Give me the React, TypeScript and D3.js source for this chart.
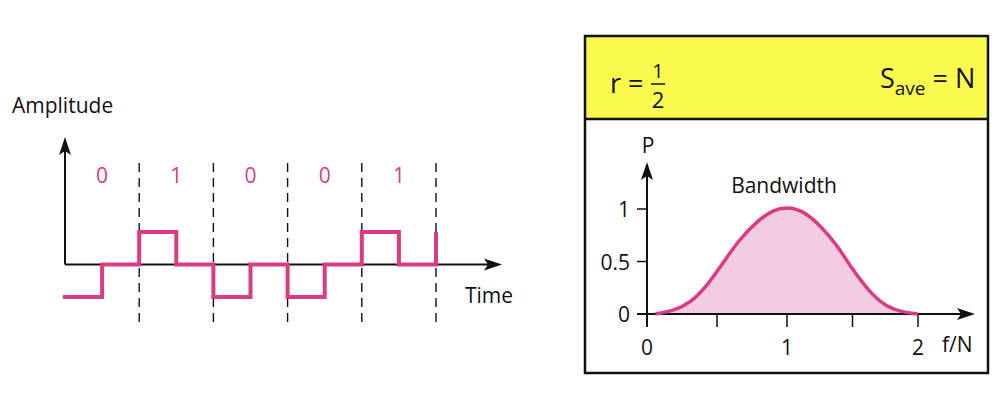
import React from 'react';
import * as d3 from 'd3';

// Left panel: bits and the signal levels (per half bit)
const bits: string[] = ['0', '1', '0', '0', '1'];
const signalTimes: number[] = [0, 0.5, 1, 1.5, 2, 2.5, 3, 3.5, 4, 4.5, 5];
const signalLevels: number[] = [-1, 0, 1, 0, -1, 0, -1, 0, 1, 0, 1];

// Right panel: power spectrum
const specF: number[] = [0.06, 0.19, 0.31, 0.43, 0.54, 0.66, 0.79, 0.9, 1.0, 1.12, 1.25, 1.38, 1.5, 1.63, 1.76, 1.89, 2.0];
const specP: number[] = [0, 0.04, 0.12, 0.28, 0.48, 0.7, 0.88, 0.98, 1.01, 0.97, 0.84, 0.65, 0.43, 0.22, 0.08, 0.02, 0];
const yTicks: number[] = [0, 0.5, 1];
const yTickLabels: string[] = ['0', '0.5', '1'];
const xTicks: number[] = [0, 0.5, 1, 1.5, 2];
const xTickLabels: string[] = ['0', '1', '2'];
const xLabelValues: number[] = [0, 1, 2];

const PINK = '#DC3A84';
const FILL = '#F4CCE2';
const YELLOW = '#FAFA4E';
const FONT = '"Open Sans", sans-serif';

const App: React.FC = () => {
  // left scales
  const tx = d3.scaleLinear().domain([0, 5]).range([65, 436]);
  const ly = d3.scaleLinear().domain([-1, 1]).range([297, 232]);
  const y0 = ly(0);

  const sig = signalTimes.map((t, i) => ({ t, v: signalLevels[i] }));
  const stepLine = d3
    .line<{ t: number; v: number }>()
    .x((d) => tx(d.t))
    .y((d) => ly(d.v))
    .curve(d3.curveStepAfter);

  // right scales
  const fx = d3.scaleLinear().domain([0, 1, 2]).range([647, 787, 918]);
  const py = d3.scaleLinear().domain([0, 1]).range([314, 209]);
  const spec = specF.map((f, i) => ({ f, p: specP[i] }));
  const area = d3
    .area<{ f: number; p: number }>()
    .x((d) => fx(d.f))
    .y0(py(0))
    .y1((d) => py(d.p))
    .curve(d3.curveNatural);
  const line = d3
    .line<{ f: number; p: number }>()
    .x((d) => fx(d.f))
    .y((d) => py(d.p))
    .curve(d3.curveNatural);

  const upArrow = (x: number, y: number) => `M${x},${y} L${x - 6},${y + 18} L${x},${y + 14} L${x + 6},${y + 18} Z`;
  const rightArrow = (x: number, y: number) => `M${x},${y} L${x - 18},${y - 6} L${x - 14},${y} L${x - 18},${y + 6} Z`;

  return (
    <svg width={1002} height={414} style={{ position: 'absolute', left: 0, top: 0, background: '#fff' }} fontFamily={FONT}>
      {/* ---------- left panel ---------- */}
      <text x={12} y={113} fontSize={21} fill="#111">Amplitude</text>
      <text x={465} y={303} fontSize={21} fill="#111">Time</text>

      {bits.map((b, i) => (
        <text key={i} x={tx(i + 0.5)} y={183} fontSize={21} fill={PINK} textAnchor="middle">{b}</text>
      ))}

      {d3.range(1, bits.length + 1).map((i) => (
        <line key={i} x1={tx(i)} x2={tx(i)} y1={163} y2={327} stroke="#111" strokeWidth={1.4} strokeDasharray="9,6" />
      ))}

      <line x1={tx(0)} x2={tx(0)} y1={y0} y2={150} stroke="#111" strokeWidth={2} />
      <path d={upArrow(tx(0), 137)} fill="#111" />
      <line x1={tx(0)} x2={490} y1={y0} y2={y0} stroke="#111" strokeWidth={2} />
      <path d={rightArrow(502, y0)} fill="#111" />

      <g transform="translate(-2,0)">
        <line x1={tx(0)} x2={tx(0) + 2} y1={ly(signalLevels[0])} y2={ly(signalLevels[0])} stroke={PINK} strokeWidth={4} />
      </g>
      <path d={stepLine(sig) || ''} fill="none" stroke={PINK} strokeWidth={4} strokeLinejoin="miter" />

      {/* ---------- right panel ---------- */}
      <rect x={585} y={36} width={403} height={83} fill={YELLOW} />
      <rect x={585} y={36} width={403} height={337} fill="none" stroke="#111" strokeWidth={2.5} />
      <line x1={585} x2={988} y1={119} y2={119} stroke="#111" strokeWidth={2.5} />

      <text x={610} y={93} fontSize={27} fill="#111">r =</text>
      <text x={658} y={78} fontSize={20} fill="#111" textAnchor="middle">1</text>
      <line x1={651} x2={665} y1={84} y2={84} stroke="#111" strokeWidth={1.5} />
      <text x={658} y={108} fontSize={22} fill="#111" textAnchor="middle">2</text>

      <text x={880} y={88} fontSize={27} fill="#111">
        S<tspan fontSize={19} dy={7}>ave</tspan>
        <tspan dy={-7}> = N</tspan>
      </text>

      <path d={area(spec) || ''} fill={FILL} />

      {/* axes */}
      <line x1={fx(0)} x2={fx(0)} y1={327} y2={175} stroke="#111" strokeWidth={2} />
      <path d={upArrow(fx(0), 162)} fill="#111" />
      <line x1={637} x2={963} y1={py(0)} y2={py(0)} stroke="#111" strokeWidth={2} />
      <path d={rightArrow(975, py(0))} fill="#111" />

      {yTicks.map((t) => (
        <line key={t} x1={637} x2={fx(0)} y1={py(t)} y2={py(t)} stroke="#111" strokeWidth={1.5} />
      ))}
      {yTicks.map((t, i) => (
        <text key={t} x={630} y={py(t) + 8} fontSize={21} fill="#111" textAnchor="end">{yTickLabels[i]}</text>
      ))}
      {xTicks.map((t) => (
        <line key={t} x1={fx(t)} x2={fx(t)} y1={py(0)} y2={327} stroke="#111" strokeWidth={1.5} />
      ))}
      {xLabelValues.map((t, i) => (
        <text key={t} x={fx(t)} y={355} fontSize={21} fill="#111" textAnchor="middle">{xTickLabels[i]}</text>
      ))}
      <text x={942} y={352} fontSize={21} fill="#111">f/N</text>
      <text x={648} y={153} fontSize={21} fill="#111" textAnchor="middle">P</text>
      <text x={784} y={193} fontSize={21} fill="#111" textAnchor="middle">Bandwidth</text>

      <path d={line(spec) || ''} fill="none" stroke={PINK} strokeWidth={3.5} />
    </svg>
  );
};

export default App;
